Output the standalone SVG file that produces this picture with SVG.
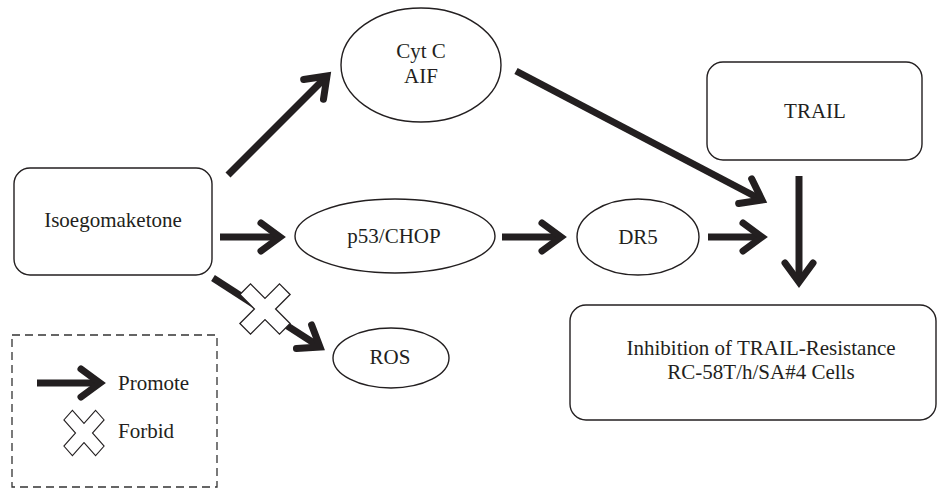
<svg xmlns="http://www.w3.org/2000/svg" width="941" height="489" viewBox="0 0 941 489">
<defs>
<style>
.node{fill:#fff;stroke:#231f20;stroke-width:1.4}
.lbl{font-family:"Liberation Serif","Times New Roman",serif;font-size:21px;fill:#231f20;text-anchor:middle}
.leg{font-family:"Liberation Serif","Times New Roman",serif;font-size:21px;fill:#231f20}
.conn{fill:none;stroke:#231f20;stroke-width:7;marker-end:url(#ah)}
.cross{fill:#fff;stroke:#231f20;stroke-width:1.3}
</style>
<marker id="ah" markerUnits="userSpaceOnUse" markerWidth="60" markerHeight="60" viewBox="-30 -30 60 60" refX="0" refY="0" orient="auto" overflow="visible">
<path d="M-19,-14 L0,0 L-19,14" fill="none" stroke="#231f20" stroke-width="7" stroke-linecap="round" stroke-linejoin="miter"/>
</marker>
<path id="x" d="M-7.5,-28 H7.5 V-7.5 H28 V7.5 H7.5 V28 H-7.5 V7.5 H-28 V-7.5 H-7.5 Z"/>
</defs>
<rect width="941" height="489" fill="#fff"/>
<g id="connectors">
<line class="conn" x1="228" y1="175" x2="327" y2="76"/>
<line class="conn" x1="516" y1="71" x2="762" y2="200"/>
<line class="conn" x1="220" y1="237" x2="280" y2="237"/>
<line class="conn" x1="502" y1="237" x2="561" y2="237"/>
<line class="conn" x1="708" y1="237" x2="762" y2="237"/>
<line class="conn" x1="799" y1="176" x2="799" y2="282"/>
<line class="conn" x1="213" y1="278" x2="320" y2="347"/>
</g>
<g id="isoegomaketone">
<rect class="node" x="14" y="168" width="198" height="107" rx="16"/>
<text class="lbl" x="113" y="227">Isoegomaketone</text>
</g>
<g id="cytc">
<ellipse class="node" cx="421" cy="65" rx="80" ry="57"/>
<text class="lbl" x="421" y="58">Cyt C</text>
<text class="lbl" x="421" y="83">AIF</text>
</g>
<g id="p53">
<ellipse class="node" cx="395" cy="236" rx="100" ry="37"/>
<text class="lbl" x="394" y="243">p53/CHOP</text>
</g>
<g id="dr5">
<ellipse class="node" cx="638" cy="237" rx="61" ry="38"/>
<text class="lbl" x="638" y="244">DR5</text>
</g>
<g id="trail">
<rect class="node" x="707" y="62" width="215" height="98" rx="16"/>
<text class="lbl" x="815" y="118">TRAIL</text>
</g>
<g id="inhibition">
<rect class="node" x="570" y="305" width="366" height="115" rx="16"/>
<text class="lbl" x="761" y="355">Inhibition of TRAIL-Resistance</text>
<text class="lbl" x="761" y="379">RC-58T/h/SA#4 Cells</text>
</g>
<g id="ros">
<ellipse class="node" cx="391" cy="358" rx="58" ry="30"/>
<text class="lbl" x="390" y="364">ROS</text>
</g>
<g id="forbid-mark">
<use href="#x" class="cross" transform="translate(265,309) rotate(45)"/>
</g>
<g id="legend">
<rect x="12" y="335" width="205" height="152" fill="none" stroke="#333" stroke-width="1.3" stroke-dasharray="8,5"/>
<line class="conn" x1="37" y1="383" x2="100" y2="383"/>
<text class="leg" x="118" y="390">Promote</text>
<use href="#x" class="cross" transform="translate(84,433) scale(0.8,0.9) rotate(45)"/>
<text class="leg" x="118" y="438">Forbid</text>
</g>
</svg>
